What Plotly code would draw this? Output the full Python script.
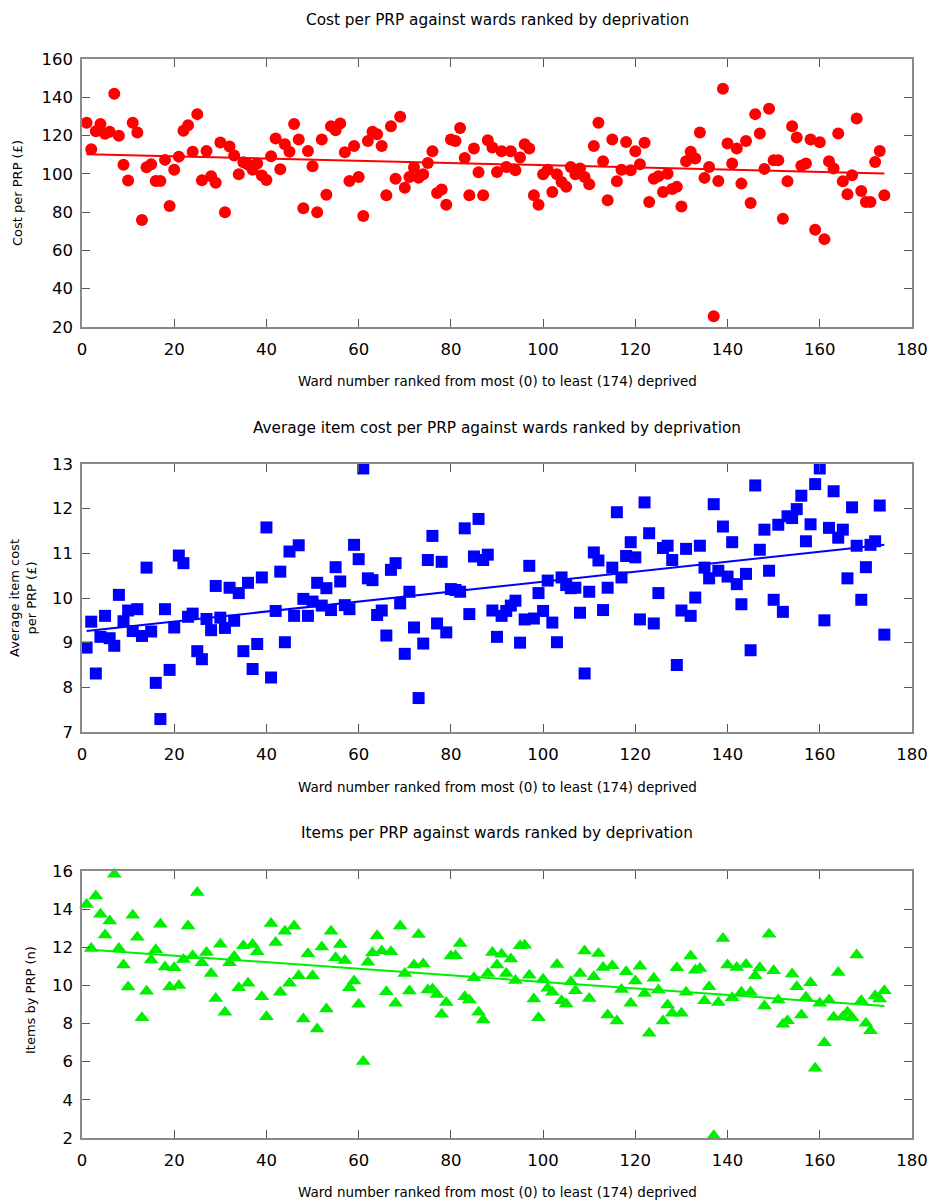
import numpy as np
import plotly.graph_objects as go

wards = list(range(1, 175))

cost_per_prp = [
    126.7, 112.9, 122.3, 126.0, 121.0, 122.0, 141.8, 119.9, 104.8, 96.5,
    126.7, 121.6, 75.9, 103.5, 105.0, 96.3, 96.3, 107.3, 83.2, 102.2,
    109.0, 122.5, 125.4, 111.5, 131.2, 96.6, 112.0, 98.7, 95.4, 116.4,
    80.0, 114.3, 109.6, 99.8, 106.0, 104.9, 102.2, 105.4, 99.1, 96.8,
    109.2, 118.5, 102.4, 115.5, 111.5, 126.0, 117.9, 82.0, 112.0, 104.0,
    79.9, 117.9, 89.1, 124.9, 122.8, 126.3, 111.3, 96.3, 114.5, 98.4,
    78.0, 117.2, 122.0, 120.7, 114.6, 88.8, 124.9, 97.5, 129.8, 92.8,
    98.4, 103.3, 98.0, 99.8, 105.7, 111.8, 90.0, 91.8, 83.9, 118.0,
    117.2, 124.0, 108.3, 88.8, 113.2, 100.8, 88.8, 117.6, 113.8, 101.0,
    111.8, 103.6, 111.8, 101.9, 108.5, 115.5, 113.2, 88.8, 83.9, 99.8,
    102.2, 90.5, 99.8, 95.8, 93.2, 103.6, 99.8, 102.8, 98.4, 94.6,
    114.6, 126.7, 106.6, 86.2, 117.9, 96.1, 102.2, 116.7, 101.9, 111.8,
    105.0, 116.3, 85.3, 97.5, 98.7, 90.5, 100.1, 92.1, 93.2, 83.0,
    106.6, 111.5, 108.0, 121.6, 97.9, 103.6, 25.6, 96.3, 144.5, 115.8,
    105.4, 113.2, 94.9, 117.2, 84.8, 131.2, 121.1, 102.6, 134.0, 107.1,
    107.1, 76.6, 96.1, 124.9, 119.0, 104.2, 105.4, 117.9, 70.8, 116.5,
    65.9, 106.6, 102.8, 121.1, 96.1, 89.3, 99.3, 128.9, 91.1, 85.3,
    85.3, 106.2, 112.0, 88.8,
]

avg_item_cost = [
    8.89, 9.47, 8.31, 9.13, 9.60, 9.10, 8.93, 10.07, 9.48, 9.72,
    9.26, 9.75, 9.15, 10.68, 9.25, 8.10, 7.29, 9.75, 8.39, 9.34,
    10.95, 10.78, 9.58, 9.65, 8.81, 8.63, 9.53, 9.28, 10.27, 9.56,
    9.33, 10.23, 9.49, 10.11, 8.81, 10.34, 8.41, 8.97, 10.46, 11.58,
    8.22, 9.71, 10.59, 9.01, 11.04, 9.60, 11.18, 9.98, 9.60, 9.92,
    10.34, 9.83, 10.22, 9.73, 10.69, 10.37, 9.84, 9.75, 11.19, 10.87,
    12.90, 10.44, 10.40, 9.62, 9.72, 9.16, 10.63, 10.78, 9.88, 8.75,
    10.14, 9.34, 7.76, 8.98, 10.85, 11.39, 9.43, 10.81, 9.23, 10.20,
    10.18, 10.14, 11.56, 9.64, 10.93, 11.77, 10.85, 10.97, 9.72, 9.13,
    9.60, 9.71, 9.83, 9.94, 9.00, 9.52, 10.72, 9.54, 10.11, 9.71,
    10.39, 9.45, 9.01, 10.46, 10.29, 10.22, 10.23, 9.67, 8.31, 10.14,
    11.02, 10.84, 9.73, 10.23, 10.68, 11.92, 10.46, 10.94, 11.25, 10.91,
    9.52, 12.14, 11.45, 9.43, 10.11, 11.12, 11.17, 10.85, 8.50, 9.72,
    11.10, 9.60, 10.01, 11.17, 10.68, 10.44, 12.10, 10.61, 11.60, 10.48,
    11.25, 10.31, 9.86, 10.54, 8.83, 12.52, 11.08, 11.53, 10.61, 9.96,
    11.64, 9.69, 11.83, 11.79, 11.99, 12.29, 11.27, 11.65, 12.55, 12.90,
    9.50, 11.57, 12.39, 11.35, 11.53, 10.44, 12.03, 11.17, 9.96, 10.69,
    11.19, 11.27, 12.07, 9.18,
]

items_per_prp = [
    14.24, 11.94, 14.69, 13.73, 12.64, 13.38, 15.83, 11.94, 11.07, 9.92,
    13.68, 12.53, 8.31, 9.70, 11.33, 11.87, 13.21, 10.96, 9.92, 10.93,
    9.99, 11.36, 13.12, 11.55, 14.87, 11.19, 11.73, 10.63, 9.32, 12.16,
    8.59, 11.19, 11.52, 9.88, 12.08, 10.11, 12.15, 11.76, 9.41, 8.36,
    13.25, 12.25, 9.64, 12.84, 10.11, 13.12, 10.51, 8.24, 11.66, 10.51,
    7.72, 12.01, 8.76, 12.84, 11.45, 12.15, 11.31, 9.88, 10.23, 9.01,
    6.01, 11.21, 11.71, 12.60, 11.80, 9.67, 11.76, 9.06, 13.11, 10.63,
    9.71, 11.07, 12.67, 11.12, 9.76, 9.81, 9.53, 8.49, 9.10, 11.54,
    11.55, 12.20, 9.41, 9.24, 10.40, 8.59, 8.19, 10.63, 11.73, 11.07,
    11.64, 10.63, 11.38, 10.26, 12.08, 12.11, 10.54, 9.29, 8.31, 10.33,
    9.85, 9.64, 11.10, 9.20, 9.03, 10.19, 9.72, 10.63, 11.80, 9.32,
    10.46, 11.68, 10.94, 8.45, 11.03, 8.14, 9.79, 10.72, 9.06, 10.23,
    11.01, 9.58, 7.49, 10.37, 9.76, 8.14, 8.97, 8.54, 10.93, 8.54,
    9.64, 11.54, 10.80, 10.89, 9.20, 9.93, 2.12, 9.10, 12.46, 11.07,
    9.36, 10.94, 9.64, 11.10, 9.64, 10.51, 10.93, 8.92, 12.69, 10.77,
    9.24, 7.96, 8.15, 10.60, 9.93, 8.45, 9.38, 10.14, 5.66, 9.06,
    7.00, 9.24, 8.33, 10.68, 8.36, 8.59, 8.31, 11.59, 9.20, 8.02,
    7.63, 9.46, 9.29, 9.72,
]

titles = [
    "Cost per PRP against wards ranked by deprivation",
    "Average item cost per PRP against wards ranked by deprivation",
    "Items per PRP against wards ranked by deprivation",
]
x_title = "Ward number ranked from most (0) to least (174) deprived"
y_titles = ["Cost per PRP (£)", "Average item cost<br>per PRP (£)", "Items by PRP (n)"]

series = [
    (cost_per_prp, "#ff0000", "circle", 12, [20, 160], 20),
    (avg_item_cost, "#0000ff", "square", 12, [7, 13], 1),
    (items_per_prp, "#00ee00", "triangle-up", 13, [2, 16], 2),
]

# body margin is removed by post_script, so figure coords = page coords
W, H = 931, 1202
L, T = 82, 59
R = W - 912
B = H - 1138
plot_h = H - T - B
plot_w = W - L - R


def py(p):
    return 1 - (p - T) / plot_h


def px(p):
    return (p - L) / plot_w


panels = [(59, 327), (464, 732), (871, 1138)]
title_y = [20, 428, 833]
xtitle_y = [381, 787, 1192]
ytitle_pos = [(18, 193), (23, 598), (30, 1000)]

fig = go.Figure()
layout = {}
font_family = "DejaVu Sans, Verdana, sans-serif"
xs = np.array(wards, dtype=float)

for k, (vals, color, symbol, size, yr, dt) in enumerate(series):
    n = k + 1
    xa = "x" if n == 1 else f"x{n}"
    ya = "y" if n == 1 else f"y{n}"
    fig.add_trace(go.Scatter(
        x=wards, y=vals, mode="markers", xaxis=xa, yaxis=ya,
        marker=dict(color=color, symbol=symbol, size=size, line=dict(width=0)),
        cliponaxis=False, showlegend=False, hoverinfo="skip",
    ))
    slope, icpt = np.polyfit(xs, np.array(vals), 1)
    ends = [xs.min(), xs.max()]
    fig.add_trace(go.Scatter(
        x=ends, y=[slope * e + icpt for e in ends], mode="lines",
        xaxis=xa, yaxis=ya, line=dict(color=color, width=2), showlegend=False,
        hoverinfo="skip",
    ))
    top, bot = panels[k]
    axis_common = dict(
        showgrid=False, zeroline=False, showline=True, linecolor="#8a8a8a",
        linewidth=1.5, mirror="ticks", ticks="inside", ticklen=8,
        tickcolor="#555555", tickwidth=1, ticklabeloverflow="allow",
        automargin=False,
        tickfont=dict(family=font_family, size=16.5, color="#000"),
    )
    layout["xaxis" if n == 1 else f"xaxis{n}"] = dict(
        domain=[0, 1], range=[0, 180], dtick=20, tick0=0,
        anchor=ya, ticklabelstandoff=6, **axis_common,
    )
    layout["yaxis" if n == 1 else f"yaxis{n}"] = dict(
        domain=[py(bot), py(top)], range=yr, dtick=dt, tick0=yr[0],
        anchor=xa, ticklabelstandoff=4, **axis_common,
    )

annotations = []
for k in range(3):
    annotations.append(dict(
        text=titles[k], x=0.5, y=py(title_y[k]), xref="paper", yref="paper",
        showarrow=False, xanchor="center", yanchor="middle",
        font=dict(family=font_family, size=15.3, color="#000"),
    ))
    annotations.append(dict(
        text=x_title, x=0.5, y=py(xtitle_y[k]), xref="paper", yref="paper",
        showarrow=False, xanchor="center", yanchor="middle",
        font=dict(family=font_family, size=13.5, color="#000"),
    ))
    yx, yy = ytitle_pos[k]
    annotations.append(dict(
        text=y_titles[k], x=px(yx), y=py(yy), xref="paper", yref="paper",
        showarrow=False, xanchor="center", yanchor="middle", textangle=-90,
        font=dict(family=font_family, size=13, color="#000"),
    ))

fig.update_layout(
    width=W, height=H, autosize=False,
    margin=dict(l=L, r=R, t=T, b=B, autoexpand=False),
    paper_bgcolor="white", plot_bgcolor="white", hovermode=False,
    annotations=annotations, **layout,
)

fig.write_html(
    "out.html",
    config={"displayModeBar": False, "responsive": False},
    post_script="document.body.style.margin='0';document.body.style.overflow='hidden';",
)
